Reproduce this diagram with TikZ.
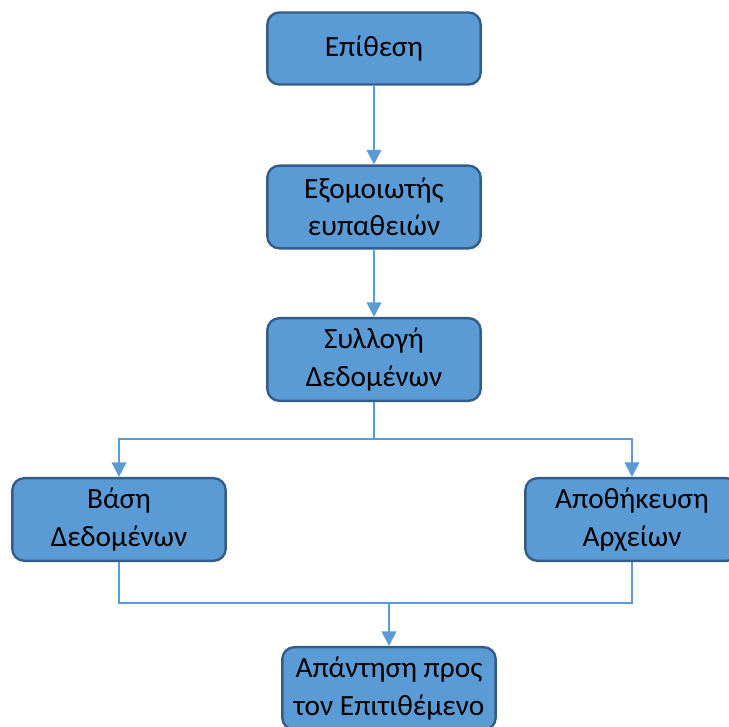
\documentclass[tikz,border=0pt]{standalone}
\usepackage{fontspec}
\setmainfont{Carlito}
\usetikzlibrary{arrows.meta}
\definecolor{boxfill}{HTML}{5B9BD5}
\definecolor{boxedge}{HTML}{335D88}
\definecolor{linecol}{HTML}{5B9BD5}
\tikzset{
  flowbox/.style={draw=boxedge, line width=1.8pt, fill=boxfill, rounded corners=9pt,
    minimum width=160pt, minimum height=62pt, align=center, inner sep=2pt,
    font=\fontsize{22}{28}\selectfont, text=black},
  conn/.style={draw=linecol, line width=1.5pt},
  arr/.style={conn, -{Triangle[width=11pt,length=11pt]}}
}
\begin{document}
\begin{tikzpicture}[x=0.75pt,y=-0.75pt]
\useasboundingbox (0,0) rectangle (729,727);
\node[flowbox, minimum height=54pt] (b1) at (374,48.5) {Επίθεση};
\node[flowbox] (b2) at (374,207) {Εξομοιωτής\\ευπαθειών};
\node[flowbox] (b3) at (374,359.5) {Συλλογή\\Δεδομένων};
\node[flowbox] (b4) at (119,519.5) {Βάση\\Δεδομένων};
\node[flowbox] (b5) at (632,519.5) {Αποθήκευση\\Αρχείων};
\node[flowbox] (b6) at (389,688.5) {Απάντηση προς\\τον Επιτιθέμενο};
\coordinate (s) at (374,439);
\coordinate (m) at (389,603);
\draw[arr] (b1) -- (b2);
\draw[arr] (b2) -- (b3);
\draw[conn] (b3.south) -- (s);
\draw[arr] (s) -| (b4.north);
\draw[arr] (s) -| (b5.north);
\draw[conn] (b4.south) |- (m) -| (b5.south);
\draw[arr] (m) -- (b6.north);
\end{tikzpicture}
\end{document}
